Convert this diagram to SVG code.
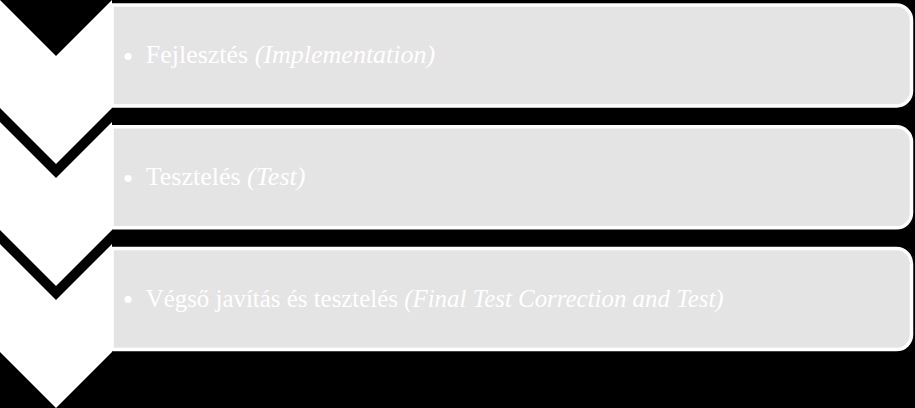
<svg xmlns="http://www.w3.org/2000/svg" width="915" height="408" viewBox="0 0 915 408">
  <style>
    .chev { fill: #ffffff; }
    .box { fill: #e4e4e4; stroke: #ffffff; stroke-width: 3.5; }
    .lbl { font-family: "Liberation Serif", "Times New Roman", serif; fill: #ffffff; }
    .it { font-style: italic; }
    .bul { font-size: 30px; }
  </style>
  <defs>
    <path id="boxShape" d="M112,0 H896.5 A15,15 0 0 1 911.5,15 V86 A15,15 0 0 1 896.5,101 H112 Z"/>
  </defs>
  <rect x="0" y="0" width="915" height="408" fill="#000000"/>

  <g id="step1">
    <polygon class="chev" points="0,0 56,56 112,0 112,108 56,164 0,108"/>
    <use href="#boxShape" class="box" transform="translate(0,5)"/>
    <text class="lbl" font-size="26"><tspan class="bul" x="122.8" y="67">•</tspan><tspan x="145.7" y="63.3">Fejlesztés </tspan><tspan class="it">(Implementation)</tspan></text>
  </g>

  <g id="step2">
    <polygon class="chev" points="0,122 56,178 112,122 112,230 56,286 0,230"/>
    <use href="#boxShape" class="box" transform="translate(0,126.8)"/>
    <text class="lbl" font-size="26"><tspan class="bul" x="122.8" y="188.7">•</tspan><tspan x="145.7" y="185">Tesztelés </tspan><tspan class="it">(Test)</tspan></text>
  </g>

  <g id="step3">
    <polygon class="chev" points="0,244 56,300 112,244 112,352 56,408 0,352"/>
    <use href="#boxShape" class="box" transform="translate(0,248.6)"/>
    <text class="lbl" font-size="24.9"><tspan class="bul" x="122.8" y="310.4">•</tspan><tspan x="145.7" y="306.7">Végső javítás és tesztelés </tspan><tspan class="it">(Final Test Correction and Test)</tspan></text>
  </g>
</svg>
